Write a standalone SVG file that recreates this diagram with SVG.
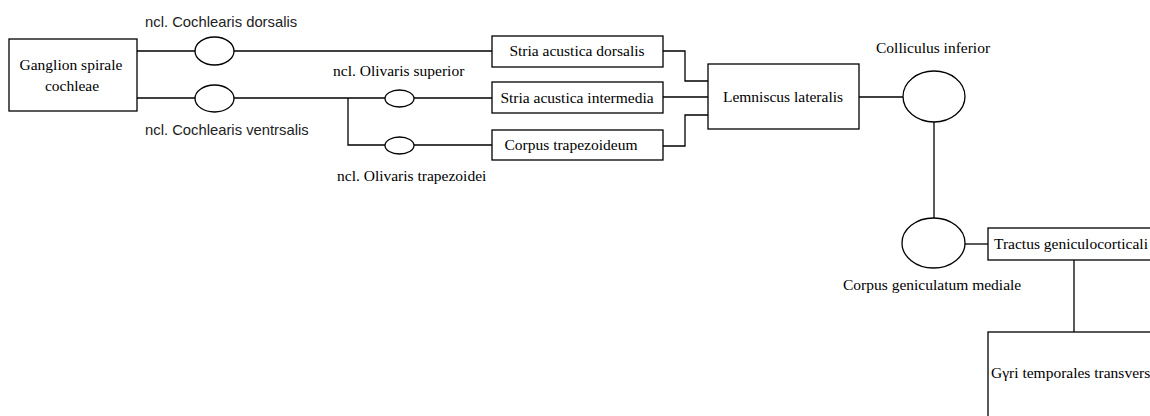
<svg xmlns="http://www.w3.org/2000/svg" width="1150" height="416" viewBox="0 0 1150 416">
<style>
.box{fill:#fff;stroke:#000;stroke-width:1.3}
.nuc{fill:#fff;stroke:#000;stroke-width:1.3}
.ln{fill:none;stroke:#000;stroke-width:1.3}
.s{font-family:"Liberation Serif","Times New Roman",serif;font-size:15.5px;fill:#000}
.a{font-family:"Liberation Sans",Arial,sans-serif;font-size:14.8px;fill:#222}
</style>
<rect width="1150" height="416" fill="#fff"/>
<g id="connectors">
<polyline class="ln" points="137,51 492,51"/>
<polyline class="ln" points="137,98 385,98"/>
<polyline class="ln" points="348,98 348,145 385,145"/>
<polyline class="ln" points="414,98 492,98"/>
<polyline class="ln" points="414,145 492,145"/>
<polyline class="ln" points="663,51 685,51 685,81 708,81"/>
<polyline class="ln" points="663,97 708,97"/>
<polyline class="ln" points="663,146 685,146 685,115 708,115"/>
<polyline class="ln" points="859,97 903,97"/>
<polyline class="ln" points="934,122 934,218"/>
<polyline class="ln" points="965,244 988,244"/>
<polyline class="ln" points="1074,260 1074,332"/>
</g>
<g id="ganglion">
<rect class="box" x="9" y="39" width="128" height="72"/>
<text class="s" x="71" y="70" text-anchor="middle">Ganglion spirale</text>
<text class="s" x="72" y="91" text-anchor="middle">cochleae</text>
</g>
<g id="ncl-cochlearis-dorsalis">
<ellipse class="nuc" cx="214.5" cy="51" rx="19.5" ry="14"/>
<text class="a" x="145" y="27">ncl. Cochlearis dorsalis</text>
</g>
<g id="ncl-cochlearis-ventralis">
<ellipse class="nuc" cx="214.5" cy="98.5" rx="19.5" ry="13.5"/>
<text class="a" x="145" y="135">ncl. Cochlearis ventrsalis</text>
</g>
<g id="ncl-olivaris-superior">
<ellipse class="nuc" cx="399.5" cy="98.5" rx="14.5" ry="8.5"/>
<text class="s" x="333" y="76">ncl. Olivaris superior</text>
</g>
<g id="ncl-olivaris-trapezoidei">
<ellipse class="nuc" cx="399.5" cy="145.5" rx="14.5" ry="8.5"/>
<text class="s" x="337" y="181">ncl. Olivaris trapezoidei</text>
</g>
<g id="stria-dorsalis">
<rect class="box" x="492" y="36" width="171" height="31"/>
<text class="s" x="577" y="56" text-anchor="middle">Stria acustica dorsalis</text>
</g>
<g id="stria-intermedia">
<rect class="box" x="492" y="82" width="171" height="31"/>
<text class="s" x="577" y="103" text-anchor="middle">Stria acustica intermedia</text>
</g>
<g id="corpus-trapezoideum">
<rect class="box" x="492" y="130" width="171" height="30"/>
<text class="s" x="571" y="150" text-anchor="middle">Corpus trapezoideum</text>
</g>
<g id="lemniscus">
<rect class="box" x="708" y="64" width="151" height="65"/>
<text class="s" x="783" y="102" text-anchor="middle">Lemniscus lateralis</text>
</g>
<g id="colliculus">
<ellipse class="nuc" cx="934" cy="96.5" rx="31" ry="25.5"/>
<text class="s" x="876" y="53">Colliculus inferior</text>
</g>
<g id="corpus-geniculatum">
<ellipse class="nuc" cx="933.5" cy="243" rx="31.5" ry="25"/>
<text class="s" x="843" y="290">Corpus geniculatum mediale</text>
</g>
<g id="tractus">
<rect class="box" x="988" y="228" width="200" height="32"/>
<text class="s" x="994" y="249" font-size="15">Tractus geniculocorticali</text>
</g>
<g id="gyri">
<rect class="box" x="988" y="332" width="200" height="120"/>
<text class="s" x="991" y="378" font-size="15">Gγri temporales transvers</text>
</g>
</svg>
